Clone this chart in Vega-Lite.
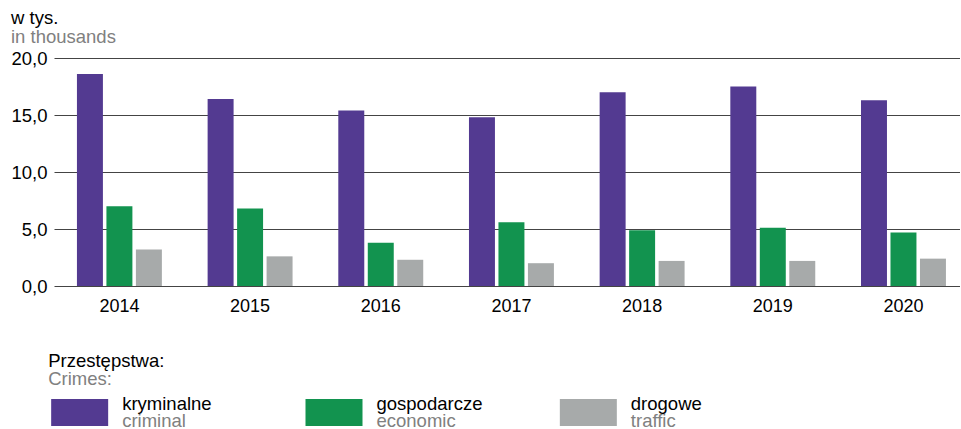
{
  "$schema": "https://vega.github.io/schema/vega-lite/v6.json",
  "background": "white",
  "padding": {"left": 10, "top": 9, "right": 0, "bottom": 0},
  "title": {
    "text": "w tys.",
    "subtitle": "in thousands",
    "anchor": "start",
    "frame": "bounds",
    "font": "Liberation Sans",
    "subtitleFont": "Liberation Sans",
    "fontSize": 18.5,
    "subtitleFontSize": 18.5,
    "fontWeight": "normal",
    "color": "#000000",
    "subtitleColor": "#808080",
    "subtitlePadding": 0,
    "offset": 3
  },
  "datasets": {
    "crimes": [
      {"year": "2014", "type": "kryminalne", "value": 18.6},
      {"year": "2015", "type": "kryminalne", "value": 16.4},
      {"year": "2016", "type": "kryminalne", "value": 15.4},
      {"year": "2017", "type": "kryminalne", "value": 14.8},
      {"year": "2018", "type": "kryminalne", "value": 17.0},
      {"year": "2019", "type": "kryminalne", "value": 17.5},
      {"year": "2020", "type": "kryminalne", "value": 16.3},
      {"year": "2014", "type": "gospodarcze", "value": 7.0},
      {"year": "2015", "type": "gospodarcze", "value": 6.8},
      {"year": "2016", "type": "gospodarcze", "value": 3.8},
      {"year": "2017", "type": "gospodarcze", "value": 5.6},
      {"year": "2018", "type": "gospodarcze", "value": 4.9},
      {"year": "2019", "type": "gospodarcze", "value": 5.1},
      {"year": "2020", "type": "gospodarcze", "value": 4.7},
      {"year": "2014", "type": "drogowe", "value": 3.2},
      {"year": "2015", "type": "drogowe", "value": 2.6},
      {"year": "2016", "type": "drogowe", "value": 2.3},
      {"year": "2017", "type": "drogowe", "value": 2.0},
      {"year": "2018", "type": "drogowe", "value": 2.2},
      {"year": "2019", "type": "drogowe", "value": 2.2},
      {"year": "2020", "type": "drogowe", "value": 2.4}
    ],
    "legend": [
      {"type": "kryminalne", "en": "criminal"},
      {"type": "gospodarcze", "en": "economic"},
      {"type": "drogowe", "en": "traffic"}
    ]
  },
  "spacing": 36,
  "vconcat": [
    {
      "width": 906,
      "height": 228,
      "data": {"name": "crimes"},
      "mark": {"type": "bar"},
      "encoding": {
        "x": {
          "field": "year",
          "type": "ordinal",
          "scale": {"paddingInner": 0.35, "paddingOuter": 0.1416, "align": 0.62},
          "axis": {
            "title": null,
            "labelAngle": 0,
            "ticks": false,
            "domain": false,
            "labelFontSize": 18,
            "labelColor": "#000000",
            "labelPadding": 11
          }
        },
        "xOffset": {
          "field": "type",
          "type": "nominal",
          "sort": ["kryminalne", "gospodarcze", "drogowe"],
          "scale": {"paddingInner": 0.119, "paddingOuter": 0}
        },
        "y": {
          "field": "value",
          "type": "quantitative",
          "scale": {"domain": [0, 20], "nice": false},
          "axis": {
            "title": null,
            "values": [0, 5, 10, 15, 20],
            "labelExpr": "replace(format(datum.value, '.1f'), '.', ',')",
            "domain": false,
            "ticks": false,
            "labelPadding": 7,
            "labelFontSize": 18.5,
            "labelColor": "#000000",
            "gridColor": "#444444",
            "gridOpacity": 1,
            "gridWidth": 1.2
          }
        },
        "color": {
          "field": "type",
          "type": "nominal",
          "scale": {
            "domain": ["kryminalne", "gospodarcze", "drogowe"],
            "range": ["#533a91", "#12934f", "#a7aaaa"]
          },
          "legend": null
        }
      }
    },
    {
      "width": 763,
      "height": 27,
      "data": {"name": "legend"},
      "title": {
        "text": "Przestępstwa:",
        "subtitle": "Crimes:",
        "anchor": "start",
        "frame": "bounds",
        "font": "Liberation Sans",
        "subtitleFont": "Liberation Sans",
        "fontSize": 18.5,
        "subtitleFontSize": 18.5,
        "fontWeight": "normal",
        "color": "#000000",
        "subtitleColor": "#808080",
        "subtitlePadding": 0,
        "offset": 6,
        "dx": -3
      },
      "encoding": {
        "x": {
          "field": "type",
          "type": "nominal",
          "sort": ["kryminalne", "gospodarcze", "drogowe"],
          "scale": {"paddingInner": 0, "paddingOuter": 0},
          "axis": null
        }
      },
      "layer": [
        {
          "mark": {"type": "bar", "width": 57, "xOffset": -101.5},
          "encoding": {
            "color": {
              "field": "type",
              "type": "nominal",
              "scale": {
                "domain": ["kryminalne", "gospodarcze", "drogowe"],
                "range": ["#533a91", "#12934f", "#a7aaaa"]
              },
              "legend": null
            }
          }
        },
        {
          "mark": {"type": "text", "align": "left", "baseline": "alphabetic", "dx": -59, "dy": -3, "fontSize": 18.5, "color": "#000000"},
          "encoding": {"text": {"field": "type"}}
        },
        {
          "mark": {"type": "text", "align": "left", "baseline": "alphabetic", "dx": -59, "dy": 14, "fontSize": 18.5, "color": "#808080"},
          "encoding": {"text": {"field": "en"}}
        }
      ]
    }
  ],
  "config": {
    "view": {"stroke": null},
    "font": "Liberation Sans"
  }
}
